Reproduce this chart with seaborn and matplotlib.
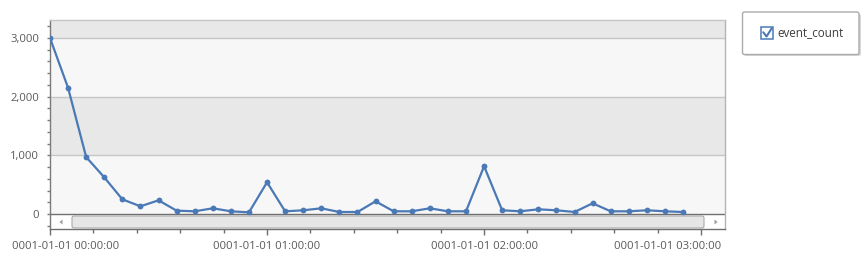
import matplotlib
matplotlib.use("Agg")
import matplotlib.pyplot as plt
import matplotlib.transforms as mtransforms
from matplotlib.patches import FancyBboxPatch, Rectangle, Polygon
from matplotlib.lines import Line2D
from matplotlib.ticker import FixedLocator, MultipleLocator, FixedFormatter
import seaborn as sns
import pandas as pd

# ---------------- data ----------------
minutes = list(range(0, 180, 5))  # 5-minute buckets from 00:00 to 02:55
event_count = [3000, 2150, 970, 625, 250, 131, 233, 57, 46, 97, 46, 28, 541, 46,
               63, 97, 34, 34, 216, 46, 46, 97, 46, 46, 814, 63, 46, 80, 63, 34, 182,
               46, 46, 63, 46, 34]
x_tick_values = [0, 60, 120, 180]
x_tick_labels = ["0001-01-01 00:00:00", "0001-01-01 01:00:00",
                 "0001-01-01 02:00:00", "0001-01-01 03:00:00"]
y_tick_values = [0, 1000, 2000, 3000]
y_tick_labels = ["0", "1,000", "2,000", "3,000"]
series_name = "event_count"

df = pd.DataFrame({"minute": minutes, series_name: event_count})

# ---------------- style ----------------
sns.set_style("white")
plt.rcParams["font.family"] = ["Open Sans", "DejaVu Sans"]

W, H = 867, 258
fig = plt.figure(figsize=(W / 100, H / 100), dpi=100)
fig.patch.set_facecolor("white")

ax = fig.add_axes([50 / W, 1 - 229 / H, 675 / W, 209 / H])
ax.set_facecolor("white")

LINE = "#4a79b6"
TXT = "#5a5a5a"

# background bands
ax.axhspan(0, 1000, color="#f7f7f7", zorder=0, lw=0)
ax.axhspan(1000, 2000, color="#e8e8e8", zorder=0, lw=0)
ax.axhspan(2000, 3000, color="#f7f7f7", zorder=0, lw=0)
ax.axhspan(3000, 4000, color="#e8e8e8", zorder=0, lw=0)
for v in [1000, 2000, 3000]:
    ax.axhline(v, color="#c6c6c6", lw=1, zorder=1)
ax.axhline(0, color="#6f6f6f", lw=1, zorder=1)

sns.lineplot(data=df, x="minute", y=series_name, ax=ax, color=LINE,
             linewidth=1.6, marker="o", markersize=4.2, markeredgewidth=0,
             legend=False, zorder=3)

ax.set_xlim(0, 186.6)
ax.set_ylim(-255.7, 3306.8)
ax.set_xlabel("")
ax.set_ylabel("")

ax.xaxis.set_major_locator(FixedLocator(x_tick_values))
ax.xaxis.set_major_formatter(FixedFormatter(x_tick_labels))
ax.xaxis.set_minor_locator(MultipleLocator(12))
ax.yaxis.set_major_locator(FixedLocator(y_tick_values))
ax.yaxis.set_major_formatter(FixedFormatter(y_tick_labels))
ax.yaxis.set_minor_locator(MultipleLocator(200))

ax.tick_params(axis="x", which="major", direction="out", length=4, width=1,
               color="#6f6f6f", labelsize=8.1, labelcolor=TXT, pad=4.5, bottom=True)
ax.tick_params(axis="x", which="minor", direction="out", length=2.6, width=1,
               color="#6f6f6f", bottom=True)
ax.tick_params(axis="y", which="major", direction="out", length=2, width=1,
               color="#7a7a7a", labelsize=8.1, labelcolor=TXT, pad=6, left=True)
ax.tick_params(axis="y", which="minor", direction="out", length=2, width=1,
               color="#7a7a7a", left=True)

for side, col in [("left", "#7a7a7a"), ("bottom", "#6f6f6f"),
                  ("top", "#c6c6c6"), ("right", "#b4b4b4")]:
    ax.spines[side].set_visible(True)
    ax.spines[side].set_color(col)
    ax.spines[side].set_linewidth(1)

# shift first / last x tick labels as in reference
fig.canvas.draw()
labels = ax.get_xticklabels()
offsets = {0: 16 / 100, 3: -34 / 100}
for i, lab in enumerate(labels):
    if i in offsets:
        lab.set_transform(lab.get_transform() +
                          mtransforms.ScaledTranslation(offsets[i], 0, fig.dpi_scale_trans))

# ---------------- widgets drawn in pixel coords ----------------
T = mtransforms.Affine2D().scale(1 / 100) + fig.dpi_scale_trans


def P(x, y):
    return (x, H - y)


# scrollbar thumb
thumb = FancyBboxPatch(P(72, 228), 632, 12,
                       boxstyle="round,pad=0,rounding_size=2",
                       transform=T, facecolor="#e6e6e6", edgecolor="#a9a9a9",
                       lw=0.8, zorder=5)
fig.add_artist(thumb)
for gx in [75.5, 77.5, 697.5, 699.5]:
    fig.add_artist(Line2D([gx, gx], [H - 219.5, H - 225], transform=T,
                          color="#8a8a8a", lw=0.7))
fig.add_artist(Polygon([P(59.5, 222), P(62.5, 219.5), P(62.5, 224.5)],
                       closed=True, transform=T, facecolor="#9a9a9a",
                       edgecolor="none"))
fig.add_artist(Polygon([P(717.5, 222), P(714.5, 219.5), P(714.5, 224.5)],
                       closed=True, transform=T, facecolor="#9a9a9a",
                       edgecolor="none"))

# legend box with checkbox
shadow = FancyBboxPatch(P(744, 56), 117, 42,
                        boxstyle="round,pad=0,rounding_size=2", transform=T,
                        facecolor="#d9d9d9", edgecolor="none", zorder=1)
fig.add_artist(shadow)
box = FancyBboxPatch(P(742.5, 54.5), 116.5, 42.5,
                     boxstyle="round,pad=0,rounding_size=2", transform=T,
                     facecolor="white", edgecolor="#ababab", lw=1, zorder=2)
fig.add_artist(box)
fig.add_artist(Rectangle(P(761, 39), 12, 12, transform=T, facecolor="white",
                         edgecolor=LINE, lw=1.1, zorder=3))
fig.add_artist(Line2D([763.3, 766.5, 771.8], [H - 32.3, H - 36.5, H - 28.2],
                      transform=T, color=LINE, lw=1.5, zorder=4,
                      solid_capstyle="round", solid_joinstyle="round"))
fig.text(777.5 / W, 1 - 33.8 / H, series_name, ha="left", va="center",
         fontsize=8.4, color="#3d3d3d")

fig.savefig("out.png", dpi=100, facecolor="white")
